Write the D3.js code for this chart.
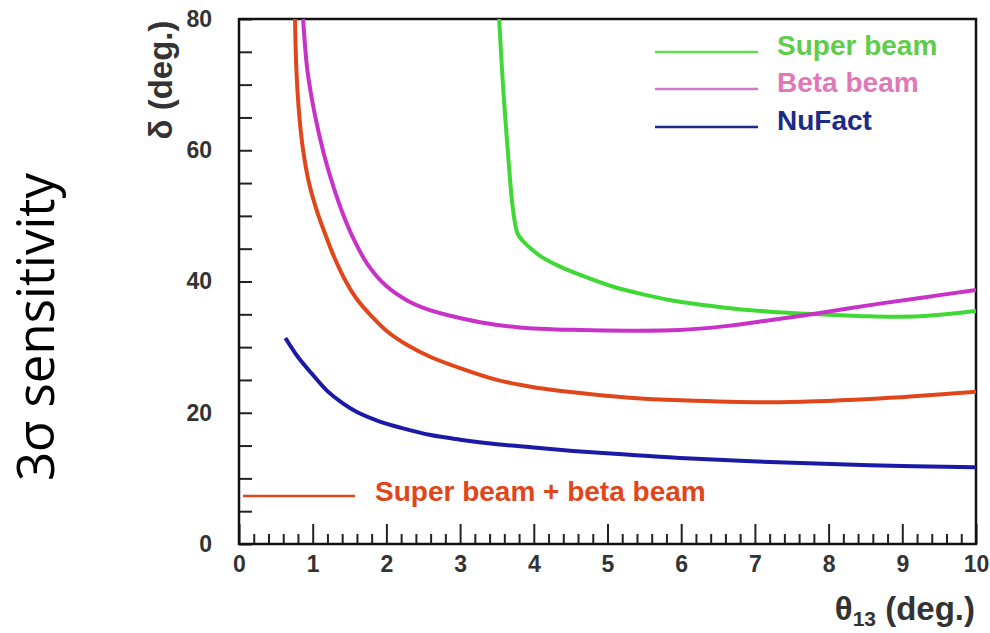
<!DOCTYPE html>
<html>
<head>
<meta charset="utf-8">
<script src="https://cdn.jsdelivr.net/npm/d3@7"></script>
<style>
  body { margin: 0; background: #fff; }
  svg { display: block; }
  .tick text { font-family: "Liberation Sans", Arial, sans-serif; font-weight: bold; fill: #333; }
</style>
</head>
<body>
<div id="chart"></div>
<script>
// theta13 (deg.) vs delta (deg.)
var superBeam = [[3.53, 80], [3.57, 72], [3.61, 65.4], [3.66, 58], [3.70, 52.7], [3.74, 49.2], [3.78, 47.3],
    [3.85, 46.2], [3.95, 45.1], [4.1, 43.8], [4.35, 42.3], [4.63, 41.0], [5.08, 39.2], [5.5, 38.0],
    [5.98, 36.9], [6.6, 36.0], [7.2, 35.4], [7.88, 35.0], [8.56, 34.7], [9.24, 34.7], [10, 35.5]];
var betaBeam = [[0.87, 80], [0.93, 72], [1.03, 65.4], [1.15, 59.5], [1.28, 54.5], [1.40, 50.6], [1.55, 46.6],
    [1.74, 42.7], [2.0, 39.3], [2.3, 37.0], [2.6, 35.6], [2.9, 34.7], [3.27, 33.8], [3.8, 33.0],
    [4.63, 32.6], [5.3, 32.5], [5.98, 32.6], [6.6, 33.2], [7.2, 34.1], [7.88, 35.2], [8.56, 36.4],
    [9.24, 37.5], [10, 38.7]];
var combined = [[0.76, 80], [0.78, 72], [0.82, 65], [0.87, 60], [0.95, 55], [1.05, 51], [1.16, 47.5],
    [1.3, 43.5], [1.45, 40], [1.6, 37.3], [1.8, 34.7], [2.0, 32.5], [2.3, 30.2], [2.6, 28.5], [3.0, 26.8],
    [3.5, 25.0], [4.0, 23.9], [4.63, 23.0], [5.3, 22.3], [6.0, 21.9], [7.2, 21.6], [8.56, 22.1], [10, 23.2]];
var nuFact = [[0.63, 31.4], [0.8, 28.5], [1.0, 25.8], [1.2, 23.3], [1.4, 21.5], [1.6, 20.1], [1.9, 18.7],
    [2.2, 17.7], [2.6, 16.6], [3.0, 15.9], [3.5, 15.2], [4.0, 14.7], [4.63, 14.1], [5.3, 13.6],
    [5.98, 13.1], [7.2, 12.5], [8.56, 12.0], [10, 11.7]];

var xMajor = [0, 1, 2, 3, 4, 5, 6, 7, 8, 9, 10];
var yMajor = [0, 20, 40, 60, 80];
var legendNames = ['Super beam', 'Beta beam', 'NuFact'];

var W = 990, H = 633;
var svg = d3.select('#chart').append('svg')
    .attr('width', W)
    .attr('height', H);

var x = d3.scaleLinear().domain([0, 10]).range([239, 976]);
var y = d3.scaleLinear().domain([0, 80]).range([544, 19]);

// minor ticks
var xMinor = d3.range(0, 10.001, 0.2).filter(function(v) { return Math.abs(v - Math.round(v)) > 0.01; });
var yMinor = d3.range(0, 80.001, 5);

svg.append('g')
    .attr('transform', 'translate(0,544)')
    .call(d3.axisBottom(x).tickValues(xMinor).tickSize(-10).tickFormat(''))
    .call(function(g) { g.select('.domain').remove(); g.selectAll('line').attr('stroke', '#222').attr('stroke-width', 2); });

svg.append('g')
    .attr('transform', 'translate(0,544)')
    .call(d3.axisBottom(x).tickValues(xMajor).tickSize(-20).tickFormat(d3.format('d')))
    .call(function(g) {
        g.select('.domain').remove();
        g.selectAll('line').attr('stroke', '#222').attr('stroke-width', 2);
        g.selectAll('text').attr('font-size', 23).attr('y', 12).attr('dy', '0.71em');
    });

svg.append('g')
    .attr('transform', 'translate(239,0)')
    .call(d3.axisLeft(y).tickValues(yMinor).tickSize(-13).tickFormat(''))
    .call(function(g) { g.select('.domain').remove(); g.selectAll('line').attr('stroke', '#222').attr('stroke-width', 2); });

svg.append('g')
    .attr('transform', 'translate(239,0)')
    .call(d3.axisLeft(y).tickValues(yMajor).tickSize(0).tickPadding(27).tickFormat(d3.format('d')))
    .call(function(g) {
        g.select('.domain').remove();
        g.selectAll('text').attr('font-size', 23);
    });

// frame
svg.append('rect')
    .attr('x', x(0)).attr('y', y(80))
    .attr('width', x(10) - x(0)).attr('height', y(0) - y(80))
    .attr('fill', 'none').attr('stroke', '#111').attr('stroke-width', 2.5);

// curves
var line = d3.line()
    .x(function(d) { return x(d[0]); })
    .y(function(d) { return y(d[1]); })
    .curve(d3.curveCatmullRom.alpha(0.5));

var series = [
    { data: superBeam, color: '#3fd834' },
    { data: betaBeam, color: '#c832c8' },
    { data: combined, color: '#e0461a' },
    { data: nuFact, color: '#1a1aa6' }
];

svg.append('g').selectAll('path')
    .data(series)
    .enter()
    .append('path')
    .attr('d', function(d) { return line(d.data); })
    .attr('fill', 'none')
    .attr('stroke', function(d) { return d.color; })
    .attr('stroke-width', 4)
    .attr('stroke-linejoin', 'round');

// legend
var legendText = ['#5fcc4c', '#e078b8', '#1c2a88'];
var legendLine = ['#66d955', '#d47ac4', '#1c2a88'];
var legendY = [52, 89, 127];
var lg = svg.append('g')
    .attr('font-family', '"Liberation Sans", Arial, sans-serif')
    .attr('font-weight', 'bold')
    .attr('font-size', 28);

legendNames.forEach(function(name, i) {
    lg.append('line')
        .attr('x1', 655).attr('x2', 758)
        .attr('y1', legendY[i]).attr('y2', legendY[i])
        .attr('stroke', legendLine[i]).attr('stroke-width', 2.5);
    lg.append('text')
        .attr('x', 777).attr('y', legendY[i] + 3)
        .attr('fill', legendText[i])
        .text(name);
});

lg.append('line')
    .attr('x1', 243).attr('x2', 355)
    .attr('y1', 496).attr('y2', 496)
    .attr('stroke', '#e0461a').attr('stroke-width', 2.5);
lg.append('text')
    .attr('x', 375).attr('y', 501)
    .attr('fill', '#e0461a')
    .text('Super beam + beta beam');

// axis titles
svg.append('text')
    .attr('transform', 'translate(172,80) rotate(-90)')
    .attr('text-anchor', 'middle')
    .attr('font-family', '"Liberation Sans", Arial, sans-serif')
    .attr('font-weight', 'bold')
    .attr('font-size', 33)
    .attr('fill', '#333')
    .text('δ (deg.)');

var xt = svg.append('text')
    .attr('x', 975).attr('y', 620)
    .attr('text-anchor', 'end')
    .attr('font-family', '"Liberation Sans", Arial, sans-serif')
    .attr('font-weight', 'bold')
    .attr('font-size', 33)
    .attr('fill', '#333');
xt.append('tspan').text('θ');
xt.append('tspan').attr('font-size', 21).attr('dy', 6).text('13');
xt.append('tspan').attr('dy', -6).text(' (deg.)');

svg.append('text')
    .attr('transform', 'translate(54,327) rotate(-90)')
    .attr('text-anchor', 'middle')
    .attr('font-family', '"Open Sans", "Noto Sans", sans-serif')
    .attr('font-size', 51)
    .attr('fill', '#000')
    .text('3σ sensitivity');
</script>
</body>
</html>
